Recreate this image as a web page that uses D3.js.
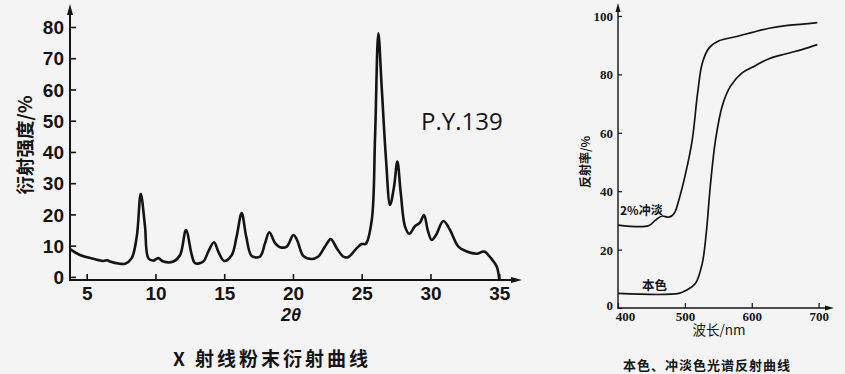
<!DOCTYPE html>
<html><head><meta charset="utf-8">
<script src="https://cdn.jsdelivr.net/npm/d3@7"></script>
<style>
html,body{margin:0;padding:0;background:#f4f4f4;}
svg{display:block;}
</style></head>
<body>
<svg id="c" width="845" height="374"></svg>
<script>
// ---- Left chart: X-ray powder diffraction (P.Y.139) ----
const xrdTheta = [3.79,4.51,5.48,6.2,6.5,6.69,7.42,7.79,8.27,8.64,8.93,9.24,9.48,9.84,10.2,10.57,11.3,11.79,12.22,12.64,12.88,13.48,13.84,14.26,14.57,14.99,15.55,15.9,16.27,16.6,17.0,17.6,17.97,18.28,18.7,19.06,19.55,20.03,20.3,20.75,21.36,21.84,22.33,22.75,23.18,23.66,24.0,24.64,25.0,25.3,25.73,25.97,26.21,26.45,26.77,27.06,27.35,27.59,27.84,28.15,28.46,28.88,29.24,29.53,29.8,30.09,30.4,30.94,31.42,32.03,32.64,33.36,33.9,34.45,34.82,35.0];
const xrdIntensity = [8.9,7.0,5.8,5.1,5.3,4.9,4.2,4.2,6.0,12.9,26.6,16.1,6.0,5.2,6.0,4.9,4.9,7.0,15.0,7.0,4.4,4.9,8.1,11.1,8.1,5.1,7.0,12.9,20.4,12.9,6.7,6.5,10.8,14.3,10.8,9.5,9.7,13.4,11.8,6.7,5.7,6.5,9.7,12.1,9.2,6.5,6.3,9.2,10.5,10.6,18.2,44.9,78.0,60.9,37.4,23.0,28.9,36.9,26.8,16.1,13.8,16.3,17.4,19.8,15.0,11.8,13.4,17.9,15.0,9.7,8.1,7.4,8.1,5.7,3.3,-0.8];
const xrdXTicks = [5,10,15,20,25,30,35];
const xrdYTicks = [0,10,20,30,40,50,60,70,80];

// ---- Right chart: spectral reflectance ----
const reflWave2 = [400,446,456,466,476,484,491,501,511,519,526,536,551,576,601,626,651,676,698];
const reflDiluted = [28.4,28.2,30.1,31.5,31.1,32.4,37.0,46.0,57.5,73.5,83.8,89.0,91.5,92.9,94.4,95.8,96.7,97.2,97.7];
const reflWave1 = [400,491,503,516,526,532,538,546,556,568,585.5,605.5,625,650,675,698];
const reflMass = [5.0,5.0,6.2,8.5,15.3,25.7,41.7,57.8,69.3,75.9,80.5,83.0,85.3,87.0,88.5,90.2];
const reflXTicks = [400,500,600,700];
const reflYTicks = [0,20,40,60,80,100];

const svg = d3.select("#c");
const ink = "#141414";

function arrowUp(g, x, y){ g.append("path").attr("d",`M${x},${y} L${x-3},${y+11} L${x+3},${y+11} Z`).attr("fill",ink); }
function arrowRight(g, x, y){ g.append("path").attr("d",`M${x},${y} L${x-11},${y-3} L${x-11},${y+3} Z`).attr("fill",ink); }

// ===== Left chart =====
{
  const x = d3.scaleLinear().domain([3.785, 36.51]).range([70, 520]);
  const y = d3.scaleLinear().domain([-1, 80]).range([280, 27]);
  const g = svg.append("g");

  const ya = d3.axisLeft(y).tickValues(xrdYTicks).tickSizeInner(-6).tickSizeOuter(0).tickPadding(6);
  const gy = g.append("g").attr("transform","translate(70,0)").call(ya);
  gy.select(".domain").remove();
  gy.selectAll("line").attr("stroke",ink).attr("stroke-width",1.6);
  gy.selectAll("text").attr("font-family","Liberation Sans, Arial, sans-serif").attr("font-size",19).attr("font-weight","bold").attr("fill",ink).attr("dy","0.35em");

  const xa = d3.axisBottom(x).tickValues(xrdXTicks).tickSizeInner(-6).tickSizeOuter(0).tickPadding(7);
  const gx = g.append("g").attr("transform","translate(0,280)").call(xa);
  gx.select(".domain").remove();
  gx.selectAll("line").attr("stroke",ink).attr("stroke-width",1.6);
  gx.selectAll("text").attr("font-family","Liberation Sans, Arial, sans-serif").attr("font-size",19).attr("font-weight","bold").attr("fill",ink);

  g.append("line").attr("x1",70).attr("x2",70).attr("y1",8).attr("y2",281).attr("stroke",ink).attr("stroke-width",2);
  g.append("line").attr("x1",69).attr("x2",512).attr("y1",280).attr("y2",280).attr("stroke",ink).attr("stroke-width",2);
  arrowUp(g,70,4);
  arrowRight(g,522,280);

  const line = d3.line().x((d,i)=>x(xrdTheta[i])).y(d=>y(d)).curve(d3.curveCatmullRom.alpha(0.5));
  g.append("path").attr("d", line(xrdIntensity)).attr("fill","none").attr("stroke",ink).attr("stroke-width",2.6).attr("stroke-linejoin","round");

  g.append("text").attr("x",421).attr("y",130).attr("font-family","Open Sans, DejaVu Sans, sans-serif").attr("font-size",24).attr("fill",ink).text("P.Y.139");
  g.append("text").attr("transform","translate(32,145) rotate(-90)").attr("text-anchor","middle")
    .attr("font-family","Noto Sans CJK SC, sans-serif").attr("font-size",18.5).attr("font-weight","bold").attr("fill",ink).text("衍射强度/%");
  g.append("text").attr("x",291).attr("y",321).attr("text-anchor","middle").attr("font-family","Liberation Sans, Arial, sans-serif")
    .attr("font-style","italic").attr("font-weight","bold").attr("font-size",18).attr("fill",ink).text("2θ");
  g.append("text").attr("x",272).attr("y",366).attr("text-anchor","middle").attr("font-family","Noto Sans CJK SC, sans-serif")
    .attr("font-size",19).attr("font-weight","bold").attr("letter-spacing",3).attr("fill",ink).text("X 射线粉末衍射曲线");
}

// ===== Right chart =====
{
  const x = d3.scaleLinear().domain([400, 720]).range([618, 832]);
  const y = d3.scaleLinear().domain([0, 100]).range([308, 16]);
  const g = svg.append("g");

  const ya = d3.axisLeft(y).tickValues(reflYTicks).tickSizeInner(-4).tickSizeOuter(0).tickPadding(5);
  const gy = g.append("g").attr("transform","translate(618,0)").call(ya);
  gy.select(".domain").remove();
  gy.selectAll("line").attr("stroke",ink).attr("stroke-width",1.2);
  gy.selectAll("text").attr("font-family","Liberation Serif, serif").attr("font-size",13).attr("font-weight","bold").attr("fill",ink).attr("dy","0.35em");
  gy.selectAll(".tick").filter(d=>d===0).select("text").attr("dy","0.1em");

  const xa = d3.axisBottom(x).tickValues(reflXTicks).tickSizeInner(-5).tickSizeOuter(0).tickPadding(4);
  const gx = g.append("g").attr("transform","translate(0,308)").call(xa);
  gx.select(".domain").remove();
  gx.selectAll("line").attr("stroke",ink).attr("stroke-width",1.2);
  gx.selectAll("text").attr("font-family","Liberation Serif, serif").attr("font-size",13).attr("font-weight","bold").attr("fill",ink)
    .attr("dx",d=>d===400?7:0);

  g.append("line").attr("x1",618).attr("x2",618).attr("y1",8).attr("y2",308.5).attr("stroke",ink).attr("stroke-width",1.4);
  g.append("line").attr("x1",617.5).attr("x2",826).attr("y1",308).attr("y2",308).attr("stroke",ink).attr("stroke-width",1.4);
  g.append("path").attr("d","M618,3 L615.5,12 L620.5,12 Z").attr("fill",ink);
  g.append("path").attr("d","M834,308 L825,305.5 L825,310.5 Z").attr("fill",ink);

  const l2 = d3.line().x((d,i)=>x(reflWave2[i])).y(d=>y(d)).curve(d3.curveCatmullRom.alpha(0.5));
  const l1 = d3.line().x((d,i)=>x(reflWave1[i])).y(d=>y(d)).curve(d3.curveCatmullRom.alpha(0.5));
  g.append("path").attr("d", l2(reflDiluted)).attr("fill","none").attr("stroke",ink).attr("stroke-width",1.7);
  g.append("path").attr("d", l1(reflMass)).attr("fill","none").attr("stroke",ink).attr("stroke-width",1.7);

  g.append("text").attr("x",620).attr("y",215).attr("font-family","Noto Sans CJK SC, sans-serif").attr("font-size",12).attr("font-weight","bold").attr("fill",ink).text("2%冲淡");
  g.append("text").attr("x",642).attr("y",290).attr("font-family","Noto Sans CJK SC, sans-serif").attr("font-size",12.5).attr("font-weight","bold").attr("fill",ink).text("本色");
  g.append("text").attr("transform","translate(590,162) rotate(-90)").attr("text-anchor","middle")
    .attr("font-family","Noto Sans CJK SC, sans-serif").attr("font-size",12).attr("font-weight","bold").attr("fill",ink).text("反射率/%");
  g.append("text").attr("x",719).attr("y",335).attr("text-anchor","middle").attr("font-family","Noto Sans CJK SC, sans-serif")
    .attr("font-size",13.5).attr("fill",ink).text("波长/nm");
  g.append("text").attr("x",707).attr("y",370).attr("text-anchor","middle").attr("font-family","Noto Sans CJK SC, sans-serif")
    .attr("font-size",13).attr("font-weight","bold").attr("letter-spacing",1).attr("fill",ink).text("本色、冲淡色光谱反射曲线");
}
</script>
</body></html>
